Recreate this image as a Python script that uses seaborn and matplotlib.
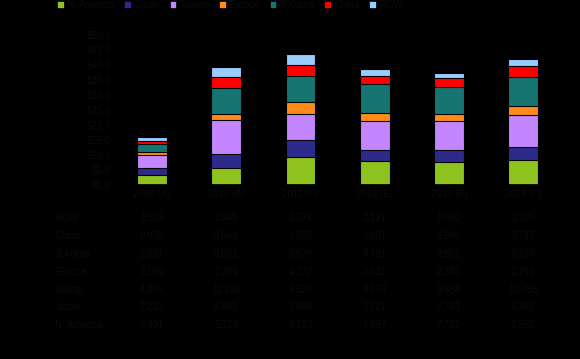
import numpy as np
import pandas as pd
import matplotlib
matplotlib.use("Agg")
import matplotlib.pyplot as plt
import seaborn as sns
from matplotlib.patches import Patch
from matplotlib.transforms import blended_transform_factory

# equipment billings by region, $B
years = ["2009 (A)", "2010 (A)", "2011 (A)", "2012 (E)", "2013 (F)", "2014 (F)"]
regions = ["N. America", "Japan", "Taiwan", "Europe", "S.Korea", "China", "ROW"]
n_america = [3.301, 5.714, 9.153, 7.897, 7.702, 8.262]
japan = [2.233, 4.495, 5.806, 3.721, 3.763, 4.301]
taiwan = [4.345, 11.251, 8.524, 9.678, 9.858, 10.788]
europe = [1.056, 2.301, 4.272, 2.611, 2.383, 2.793]
s_korea = [2.601, 8.601, 8.678, 9.781, 8.851, 9.789]
china = [0.935, 3.648, 3.652, 2.681, 2.988, 3.787]
row = [1.525, 3.345, 3.371, 2.121, 1.652, 2.105]
colors = ["#8DC21F", "#2E2A8C", "#C386FF", "#FF8C1A", "#177571", "#FF0000", "#99CCFF"]

df = pd.DataFrame(dict(zip(regions, [n_america, japan, taiwan, europe, s_korea, china, row])),
                  index=years)
cum = df.cumsum(axis=1)

txt = "#0b0b0b"
sns.set_theme(style="white")
plt.rcParams["font.family"] = ["Liberation Sans", "DejaVu Sans"]
plt.rcParams["text.color"] = txt

fig = plt.figure(figsize=(5.8, 3.59), dpi=100, facecolor="black")
ax = fig.add_axes([0.198, 0.485, 0.768, 0.418])
ax.set_facecolor("black")

# stacked bars: draw cumulative totals from the top segment down
for reg, col in reversed(list(zip(regions, colors))):
    sns.barplot(x=years, y=cum[reg].values, order=years, color=col, width=0.4,
                saturation=1, edgecolor="black", linewidth=0.8, ax=ax)

ax.set_xlim(-0.5, 5.5)
ax.set_ylim(0, 50)
ax.set_yticks(np.arange(0, 51, 5))
ax.set_yticklabels([f"${v:.1f}" for v in np.arange(0, 51, 5)])
ax.tick_params(colors=txt, labelsize=7, length=0, pad=3)
ax.set_xlabel("")
ax.set_ylabel("")
for s in ax.spines.values():
    s.set_color("black")

# data table under the chart
tr = blended_transform_factory(ax.transData, fig.transFigure)
table_rows = list(reversed(regions))
for k, reg in enumerate(table_rows):
    y = 1 - (218 + k * 17.9) / 359
    fig.text(0.095, y, reg, ha="left", va="center", fontsize=7, color=txt)
    for i, yr in enumerate(years):
        ax.text(i, y, f"{df.loc[yr, reg]:.3f}", transform=tr, ha="center",
                va="center", fontsize=7, color=txt)

handles = [Patch(facecolor=c, edgecolor="black", linewidth=0.5) for c in colors]
fig.legend(handles, regions, loc="upper left", bbox_to_anchor=(0.083, 1.025), ncol=7,
           frameon=False, fontsize=7, handlelength=0.7, handleheight=0.7,
           handletextpad=0.35, columnspacing=0.95, labelcolor=txt)

fig.savefig("out.png", dpi=100, facecolor="black")
